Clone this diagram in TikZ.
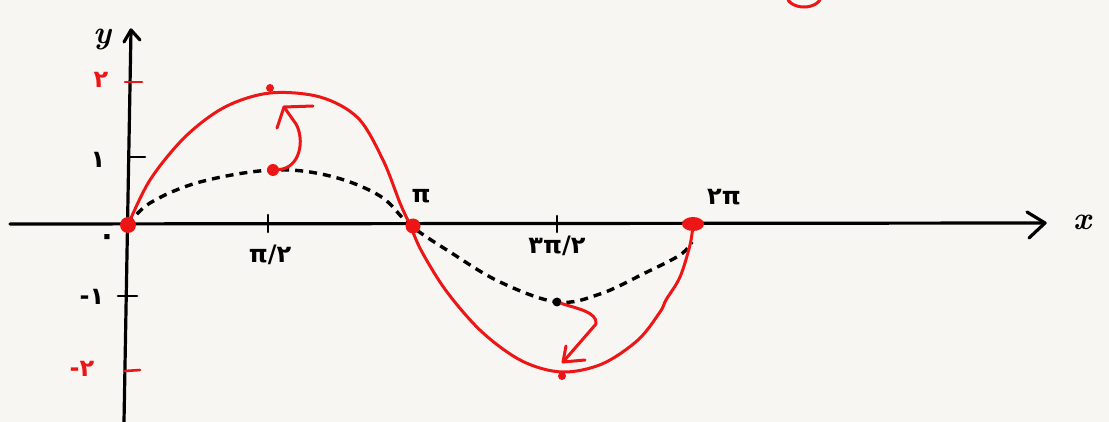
\documentclass[tikz,border=0pt]{standalone}
\usepackage{fontspec}
\usetikzlibrary{shapes.geometric}
\newfontfamily\pfont{DejaVu Sans}
\definecolor{bg}{RGB}{248,246,243}
\definecolor{pen}{RGB}{236,22,22}
\begin{document}
\begin{tikzpicture}[x=1pt,y=-1pt,
  axis/.style={line width=3.2pt,black,line cap=round},
  tick/.style={line width=2.6pt,line cap=round},
  redpen/.style={line width=3pt,pen,line cap=round,line join=round},
  dashcurve/.style={line width=3.4pt,black,dash pattern=on 8pt off 6pt},
  lbl/.style={font=\pfont\bfseries\fontsize{24}{26}\selectfont,inner sep=0pt},
  dot/.style={circle,fill=pen,inner sep=0pt}]
\fill[bg] (0,0) rectangle (1109,422);
\useasboundingbox (0,0) rectangle (1109,422);
% coordinates
\coordinate (O) at (128,225);
\coordinate (xend) at (1045,223);
\coordinate (xstart) at (10,224);
\coordinate (ytop) at (131,30);
\coordinate (ybot) at (124,422);
% axes
\draw[axis] (xstart) -- (xend);
\draw[axis,line join=round] (1027,212) -- (xend) -- (1029,238);
\draw[axis] (ybot) -- (ytop);
\draw[axis,line join=round] (124,42) -- (ytop) -- (140,40);
% ticks
\draw[tick,pen] (125,82) -- (142,82);
\draw[tick] (130,157) -- (145,157);
\draw[tick] (118,296) -- (137,296);
\draw[tick,pen] (125,371) -- (140,370);
\draw[tick] (268,215) -- (268,232);
\draw[tick] (557,216) -- (557,232);
% dashed sin x
\draw[dashcurve] plot[smooth,tension=0.6] coordinates {(128,225) (150,203) (200,182) (272,170) (330,176) (380,196) (410,225) (450,252) (500,282) (557,302) (600,294) (645,273) (680,255) (692,242)};
% red 2 sin x
\draw[redpen] plot[smooth,tension=0.55] coordinates {(128,225) (150,180) (185,137) (225,107) (270,93) (320,97) (358,118) (383,160) (400,203) (410,225) (422,252) (447,292) (482,332) (522,361) (562,372) (602,364) (638,340) (660,312) (666,300) (680,277) (690,245) (693,225)};
% dots
\node[dot,minimum size=16pt] (d0) at (O) {};
\node[dot,minimum size=15pt] (dpi) at (413,226) {};
\node[dot,ellipse,minimum width=22pt,minimum height=14pt] (d2pi) at (693,224) {};
\node[dot,minimum size=8pt] (pk) at (270,88) {};
\node[dot,minimum size=8pt] (tr) at (562,376) {};
\node[dot,minimum size=12pt] (sp) at (273,170) {};
\node[circle,fill=black,inner sep=0pt,minimum size=9pt] (st) at (557,302) {};
% curved arrows
\coordinate (a1) at (284,107);
\draw[redpen] (sp) .. controls (300,168) and (305,140) .. (296,124) -- (a1);
\draw[redpen] (313,106) -- (a1) -- (277,128);
\coordinate (a2) at (563,362);
\draw[redpen] (st) .. controls (575,308) and (598,312) .. (596,324) -- (a2);
\draw[redpen] (566,346) -- (a2) -- (585,360);
% partial ellipse at top
\draw[line width=3pt,pen] (804,-4) ellipse[x radius=17,y radius=11];
% labels
\node[lbl,pen] (l2) at (101,80) {۲};
\node[lbl] (l1) at (98,160) {۱};
\node[lbl,font=\pfont\bfseries\fontsize{30}{30}\selectfont] (l0) at (107,240) {۰};
\node[lbl] (lm1) at (92,297) {-۱};
\node[lbl,pen] (lm2) at (82,369) {-۲};
\node[lbl] (lpi2) at (270,255) {π/۲};
\node[lbl] (lpi) at (421,196) {π};
\node[lbl] (l3pi2) at (557,246) {۳π/۲};
\node[lbl] (l2pi) at (724,197) {۲π};
\node[font=\bfseries\itshape\fontsize{32}{32}\selectfont,inner sep=0pt] (lx) at (1082,222) {x};
\node[font=\bfseries\itshape\fontsize{32}{32}\selectfont,inner sep=0pt] (ly) at (102,40) {y};
\end{tikzpicture}
\end{document}
